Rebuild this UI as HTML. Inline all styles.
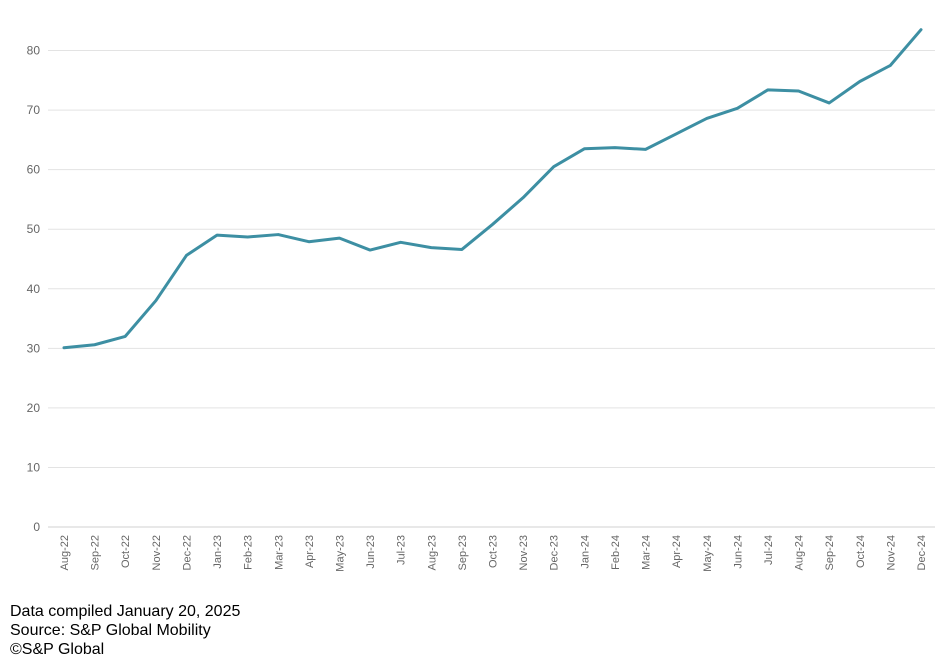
<!DOCTYPE html>
<html><head><meta charset="utf-8">
<style>
body{margin:0;background:#fff;width:940px;height:658px;overflow:hidden;font-family:"Liberation Sans",Arial,sans-serif}
.foot{position:absolute;left:10px;font-size:16px;color:#000;line-height:19px}
</style></head>
<body>
<svg id="chart" width="940" height="600" style="position:absolute;left:0;top:0"></svg>
<div class="foot" style="top:602px">
<div>Data compiled January 20, 2025</div>
<div>Source: S&amp;P Global Mobility</div>
<div>©S&amp;P Global</div>
</div>
<script>
const categories=["Aug-22","Sep-22","Oct-22","Nov-22","Dec-22","Jan-23","Feb-23","Mar-23","Apr-23","May-23","Jun-23","Jul-23","Aug-23","Sep-23","Oct-23","Nov-23","Dec-23","Jan-24","Feb-24","Mar-24","Apr-24","May-24","Jun-24","Jul-24","Aug-24","Sep-24","Oct-24","Nov-24","Dec-24"];
const values=[30.1,30.6,32.0,38.0,45.6,49.0,48.7,49.1,47.9,48.5,46.5,47.8,46.9,46.6,50.8,55.3,60.5,63.5,63.7,63.4,66.0,68.6,70.3,73.4,73.2,71.2,74.8,77.5,83.5];
const yTicks=[0,10,20,30,40,50,60,70,80];
const NS="http://www.w3.org/2000/svg";
const svg=document.getElementById('chart');
const y0=527,pxPer=5.956,xL=48,xR=935,x0=64,dx=(921-64)/28;
const y=v=>y0-v*pxPer, x=i=>x0+i*dx;
function mk(t,a){const e=document.createElementNS(NS,t);for(const k in a)e.setAttribute(k,a[k]);svg.appendChild(e);return e;}
yTicks.forEach(v=>{
 const l=mk('line',{x1:xL,x2:xR,y1:y(v),y2:y(v),stroke:v===0?'#d0d0d0':'#e3e3e3','stroke-width':1});
 
 
 const t=mk('text',{x:40,y:y(v)+4,'text-anchor':'end','font-size':12,fill:'#666','font-family':'Liberation Sans, Arial, sans-serif'});
 t.textContent=v;
 
 
});
categories.forEach((c,i)=>{
 const t=mk('text',{x:0,y:0,'text-anchor':'end','font-size':11,fill:'#666','font-family':'Liberation Sans, Arial, sans-serif',transform:`translate(${x(i)+4},${y0+8}) rotate(-90)`});
 t.textContent=c;
 
 
});
const p=mk('polyline',{points:values.map((v,i)=>x(i)+','+y(v)).join(' '),fill:'none',stroke:'#3d8fa3','stroke-width':3,'stroke-linejoin':'round','stroke-linecap':'round'});


</script>
</body></html>
